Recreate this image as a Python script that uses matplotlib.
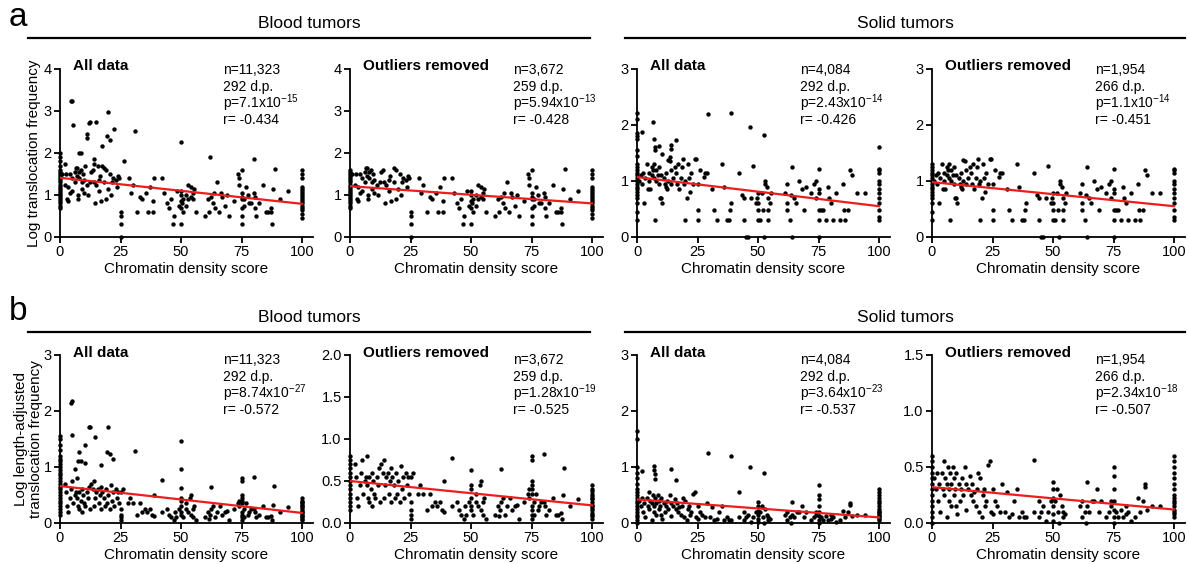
import numpy as np
import matplotlib
matplotlib.use("Agg")
import matplotlib.pyplot as plt
from matplotlib.lines import Line2D

plt.rcParams['font.family'] = ['Liberation Sans', 'DejaVu Sans']
plt.rcParams['mathtext.fontset'] = 'custom'
plt.rcParams['mathtext.rm'] = 'Liberation Sans'
plt.rcParams['mathtext.it'] = 'Liberation Sans:italic'
plt.rcParams['mathtext.bf'] = 'Liberation Sans:bold'

# --- data (x = chromatin density score, y = log freq) ---
# Blood tumors, log translocation frequency (row a)
blood_a = [
    (0, 0.7), (0, 0.75), (0, 0.8), (0, 0.85), (0, 0.9), (0, 0.95), (0, 1.0), (0, 1.05),
    (0, 1.1), (0, 1.15), (0, 1.2), (0, 1.25), (0, 1.3), (0, 1.35), (0, 1.4), (0, 1.45),
    (0, 1.5), (0, 1.55), (0, 1.6), (0, 1.7), (0, 1.8), (0, 1.9), (0, 2.0),
    (1, 1.5), (2, 1.75), (2, 1.25), (2.5, 1.5), (3, 0.9), (3.3, 0.85), (3.5, 1.2), (4, 1.05),
    (4.5, 3.25), (5, 3.23), (5.5, 2.67), (4, 1.5), (5, 1.1), (5, 1.4), (6, 1.3), (6, 1.55),
    (6.5, 1.65), (7, 1.45), (7, 1.65), (7.5, 1.0), (7.5, 0.9), (8, 1.55), (8, 1.4), (8, 2.0),
    (8.5, 2.0), (8.5, 1.6), (9, 1.15), (9, 1.3), (9.5, 1.5), (10, 1.35), (10, 1.05), (10.5, 1.7),
    (11, 2.35), (11, 2.45), (11, 1.25), (11.5, 1.0), (12, 2.72), (12.5, 2.74), (12.5, 1.3),
    (13, 1.55), (13.5, 1.6), (14, 1.75), (14, 1.85), (14, 1.3), (14.5, 0.8), (15, 2.74),
    (15, 1.25), (15.5, 1.7), (16, 1.35), (16, 1.1), (16.5, 1.45), (17, 0.85), (17.5, 2.17),
    (17.5, 1.7), (18, 1.3), (18, 1.65), (19, 0.9), (19, 1.6), (19.5, 2.4), (20, 2.97),
    (20, 1.15), (20.5, 2.3), (20.5, 1.5), (21, 1.0), (21.5, 1.3), (22, 1.4), (22.5, 2.58),
    (23, 1.35), (23.5, 1.2), (24, 1.45), (24.5, 1.4), (25, 0.6), (25, 0.5), (25, 0.3), (25, 0.0),
    (26.5, 1.8), (28.5, 1.4), (29.5, 1.05), (30, 1.25), (31, 2.52), (32, 0.6), (33, 0.95),
    (34, 0.9), (35.5, 1.05), (36.5, 0.6), (37, 1.2), (38.5, 0.85), (38.5, 0.6), (39, 1.4),
    (42, 1.4), (43, 1.05), (44, 0.8), (45, 0.7), (46, 0.9), (46.5, 0.3), (47, 0.5), (48.5, 1.1),
    (49, 0.75), (50, 2.27), (50, 1.1), (50, 1.0), (50, 0.85), (50, 0.7), (50, 0.3), (50.5, 0.8),
    (51, 0.9), (51, 0.6), (52, 0.75), (52, 1.0), (53, 1.25), (53, 0.9), (54, 1.2), (54, 0.95),
    (55, 1.05), (55, 0.9), (55.5, 1.15), (56, 0.6), (60, 0.5), (61, 0.9), (61.5, 0.6), (62, 1.9),
    (62.5, 0.95), (63, 0.8), (63.5, 1.05), (64, 0.7), (65, 1.3), (65.5, 0.6), (66.5, 1.05),
    (67, 0.95), (68, 0.75), (69, 1.0), (70, 0.5), (72, 0.85), (73.5, 1.5), (74, 1.4), (74, 1.25),
    (75, 1.6), (75, 1.05), (75, 0.95), (75, 0.9), (75, 0.7), (75, 0.5), (75, 0.3), (76, 0.75),
    (76, 0.9), (77, 1.2), (77.5, 1.0), (78, 0.8), (79, 0.8), (80, 1.86), (80, 1.05), (80.5, 0.95),
    (80.5, 0.7), (81, 0.5), (82, 0.8), (84, 1.25), (85, 0.6), (86, 0.6), (87, 0.7), (87, 0.6),
    (87.5, 0.3), (88, 1.15), (89, 1.62), (91, 0.9), (94, 1.1),
    (100, 0.45), (100, 0.55), (100, 0.65), (100, 0.7), (100, 0.75), (100, 0.8), (100, 0.85),
    (100, 0.9), (100, 0.95), (100, 1.0), (100, 1.05), (100, 1.1), (100, 1.15), (100, 1.2),
    (100, 1.4), (100, 1.5), (100, 1.6),
]

# Blood tumors, log length-adjusted translocation frequency (row b)
blood_b = [
    (0, 0.15), (0, 0.2), (0, 0.25), (0, 0.3), (0, 0.35), (0, 0.4), (0, 0.45), (0, 0.5),
    (0, 0.55), (0, 0.6), (0, 0.65), (0, 0.7), (0, 0.75), (0, 0.8), (0, 0.85), (0, 0.9),
    (0, 0.95), (0, 1.0), (0, 1.05), (0, 1.1), (0, 1.15), (0, 1.2), (0, 1.3), (0, 1.4),
    (0, 1.5), (0, 1.55),
    (4.5, 2.15), (5, 2.18), (5, 1.57), (12, 1.72), (12.3, 1.72), (20, 1.72), (14.5, 1.53),
    (10.5, 1.4), (8, 1.26), (7.5, 1.1), (8.5, 1.1), (10.5, 1.07), (6, 0.97), (19.5, 1.27),
    (20.5, 1.24), (22, 1.14), (17, 1.04), (31, 1.29), (50, 1.47), (50, 0.96), (42, 0.77),
    (50, 0.63), (62.5, 0.64), (75, 0.8), (75, 0.75), (80, 0.82), (88.5, 0.66),
    (2, 0.7), (2.5, 0.55), (3, 0.3), (3.5, 0.2), (4, 0.45), (4.5, 0.6), (5, 0.75), (5.5, 0.35),
    (6, 0.5), (6.5, 0.55), (7, 0.8), (7, 0.45), (7.5, 0.3), (8, 0.55), (8, 0.25), (8.5, 0.4),
    (9, 0.6), (9, 0.2), (9.5, 0.5), (10, 0.35), (10.5, 0.3), (11, 0.55), (11.5, 0.45), (12, 0.65),
    (12.5, 0.25), (13, 0.7), (13.5, 0.6), (14, 0.75), (14, 0.3), (14.5, 0.45), (15, 0.55),
    (15.5, 0.6), (16, 0.35), (16.5, 0.5), (17, 0.65), (17, 0.25), (17.5, 0.55), (18, 0.45),
    (18.5, 0.3), (19, 0.6), (19.5, 0.35), (20, 0.5), (20.5, 0.25), (21, 0.68), (21.5, 0.4),
    (22, 0.55), (22.5, 0.3), (23, 0.6), (23.5, 0.45), (24, 0.55), (24.5, 0.35), (25, 0.55),
    (25, 0.25), (25, 0.15), (25, 0.1), (25, 0.05), (26, 0.6), (28, 0.35), (29, 0.45), (30, 0.35),
    (32, 0.15), (33, 0.35), (34, 0.2), (35, 0.25), (36, 0.2), (37, 0.25), (38, 0.15), (39, 0.5),
    (39, 0.13), (42, 0.2), (44, 0.25), (45, 0.15), (46, 0.1), (47, 0.05), (47.5, 0.2), (48, 0.1),
    (49, 0.25), (50, 0.45), (50, 0.4), (50, 0.3), (50, 0.2), (50, 0.15), (51, 0.1), (52, 0.25),
    (52, 0.35), (53, 0.2), (53.5, 0.45), (54, 0.15), (54, 0.5), (55, 0.25), (55, 0.1), (55.5, 0.3),
    (56, 0.05), (60, 0.1), (61, 0.2), (61.5, 0.08), (62, 0.15), (62.5, 0.25), (63, 0.3), (64, 0.1),
    (65, 0.2), (66, 0.3), (67, 0.15), (68, 0.2), (69, 0.22), (70, 0.05), (72, 0.25), (73.5, 0.35),
    (74, 0.4), (74, 0.3), (75, 0.5), (75, 0.45), (75, 0.4), (75, 0.35), (75, 0.2), (75, 0.15),
    (75, 0.1), (75, 0.05), (76, 0.25), (76, 0.1), (77, 0.35), (77.5, 0.15), (78, 0.2), (79, 0.25),
    (80, 0.25), (80.5, 0.2), (81, 0.1), (82, 0.15), (84, 0.3), (85, 0.1), (86, 0.1), (87, 0.12),
    (87.5, 0.05), (88, 0.33), (91, 0.2), (94, 0.28),
    (100, 0.05), (100, 0.08), (100, 0.1), (100, 0.12), (100, 0.15), (100, 0.18), (100, 0.2),
    (100, 0.22), (100, 0.25), (100, 0.28), (100, 0.3), (100, 0.32), (100, 0.35), (100, 0.38),
    (100, 0.4), (100, 0.45),
]

# Solid tumors, log translocation frequency (row a)
solid_a = [
    (0, 0.3), (0, 0.45), (0, 0.6), (0, 0.7), (0, 0.75), (0, 0.8), (0, 0.85), (0, 0.9),
    (0, 0.95), (0, 1.0), (0, 1.05), (0, 1.1), (0, 1.15), (0, 1.2), (0, 1.25), (0, 1.3),
    (0, 1.45), (0, 1.55), (0, 1.75), (0, 1.8), (0, 1.85), (0, 2.1), (0, 2.22),
    (2, 1.88), (6.5, 2.05), (7, 1.75), (7.5, 1.6), (7.5, 1.55), (9, 1.62), (10.5, 1.48),
    (14, 1.65), (14, 1.58), (16, 1.74), (13.5, 1.42), (29.5, 2.2), (39, 2.22), (46.5, 1.97),
    (52.5, 1.82),
    (1, 1.0), (1.5, 1.1), (2, 0.95), (2.5, 1.15), (3, 0.6), (3.5, 1.05), (4, 1.3), (4.5, 0.85),
    (5, 1.15), (5, 1.0), (5.5, 0.85), (6, 1.25), (6, 1.1), (6.5, 1.2), (7, 1.3), (7, 1.05),
    (7.5, 0.3), (8, 1.2), (8, 1.0), (8.5, 1.1), (9, 0.95), (9, 1.25), (9.5, 0.7), (10, 1.1),
    (10, 0.7), (10.5, 0.6), (11, 1.05), (11.5, 0.95), (12, 0.9), (12, 1.15), (12.5, 0.85),
    (13, 1.0), (13, 1.38), (13.5, 1.35), (14, 1.2), (14, 0.95), (15, 1.05), (15.5, 1.25), (16, 1.15),
    (16.5, 0.95), (17, 1.3), (17.5, 0.85), (18, 1.05), (18.5, 1.25), (19, 1.4), (19.5, 0.95),
    (20, 1.0), (20, 0.3), (20.5, 0.7), (21, 1.3), (21.5, 1.05), (22, 0.8), (22.5, 1.15),
    (23, 0.95), (24, 1.4), (24.5, 1.4), (25, 0.48), (25, 0.3), (25, 0.95), (26, 1.2),
    (27.5, 1.08), (28, 1.15), (29, 1.15), (31, 0.85), (32, 0.48), (33, 0.3), (35, 1.3), (36, 0.9),
    (37, 0.3), (38, 0.3), (38.5, 0.48), (39, 0.6), (42, 1.15), (43.5, 0.75), (44, 0.3), (44, 0.7),
    (45, 0.0), (46, 0.0), (47, 0.7), (48, 1.27), (49, 0.6), (49.5, 0.7), (50, 0.78), (50, 0.6),
    (50, 0.48), (50, 0.3), (51, 0.3), (51.5, 0.78), (52, 0.48), (52.5, 0.0), (53, 0.95), (53, 1.0),
    (53.5, 0.9), (54, 0.7), (54, 0.48), (54, 0.3), (55, 0.6), (55.5, 0.78), (61, 0.78), (62, 0.95),
    (62, 0.6), (62, 0.48), (63, 0.3), (63.5, 0.75), (64, 1.25), (64, 0.0), (65, 0.7), (65.5, 0.6),
    (67, 1.0), (68, 0.85), (69, 0.48), (70, 0.9), (72, 0.78), (73, 0.95), (74, 0.7), (74, 1.0),
    (75, 1.22), (75, 0.85), (75, 0.78), (75, 0.48), (75, 0.3), (75, 0.0), (76, 0.48), (77, 0.48),
    (78, 0.3), (79, 0.9), (79.5, 0.7), (80, 0.6), (81, 0.3), (82, 0.78), (84, 0.3), (85, 0.95),
    (85.5, 0.48), (86, 0.3), (87, 0.48), (88, 1.2), (89, 1.1), (91, 0.78), (94, 0.78),
    (100, 0.3), (100, 0.35), (100, 0.48), (100, 0.6), (100, 0.7), (100, 0.78), (100, 0.85),
    (100, 0.95), (100, 1.0), (100, 1.15), (100, 1.2), (100, 1.22), (100, 1.6),
]

# Solid tumors, log length-adjusted translocation frequency (row b)
solid_b = [
    (0, 0.0), (0, 0.05), (0, 0.1), (0, 0.15), (0, 0.2), (0, 0.25), (0, 0.3), (0, 0.35),
    (0, 0.4), (0, 0.45), (0, 0.5), (0, 0.55), (0, 0.6), (0, 0.7), (0, 0.8), (0, 0.9),
    (0, 1.0), (0, 1.5), (0, 1.65),
    (2, 0.92), (7, 1.02), (7, 0.95), (7.5, 0.88), (7.5, 0.78), (14, 0.96), (16, 0.77),
    (29.5, 1.25), (39, 1.2), (46.5, 1.0), (52.5, 0.9), (42, 0.56), (75, 0.67), (64, 0.37),
    (50, 0.37), (88, 0.35),
    (1, 0.4), (1.5, 0.3), (2, 0.45), (2.5, 0.2), (3, 0.35), (3.5, 0.1), (4, 0.45), (4.5, 0.3),
    (5, 0.55), (5, 0.25), (5.5, 0.4), (6, 0.35), (6, 0.05), (6.5, 0.5), (7, 0.3), (7, 0.2),
    (7.5, 0.45), (8, 0.35), (8, 0.15), (8.5, 0.5), (9, 0.25), (9, 0.4), (9.5, 0.3), (10, 0.15),
    (10, 0.45), (10.5, 0.08), (11, 0.35), (11.5, 0.2), (12, 0.3), (12.5, 0.4), (13, 0.25),
    (13.5, 0.5), (14, 0.35), (14, 0.12), (15, 0.3), (15.5, 0.42), (16, 0.25), (16.5, 0.35),
    (17, 0.2), (17.5, 0.28), (18, 0.15), (18.5, 0.3), (19, 0.45), (19.5, 0.1), (20, 0.4),
    (20.5, 0.05), (21, 0.25), (21.5, 0.3), (22, 0.15), (22.5, 0.2), (23, 0.52), (24, 0.55),
    (24.5, 0.1), (25, 0.3), (25, 0.08), (26, 0.2), (27, 0.15), (28, 0.1), (29, 0.35), (30, 0.1),
    (31, 0.28), (32, 0.05), (33, 0.08), (34, 0.2), (35, 0.3), (36, 0.05), (37, 0.1), (38, 0.05),
    (39, 0.05), (42, 0.1), (44, 0.2), (44, 0.05), (45, 0.1), (46, 0.15), (47, 0.02), (48, 0.1),
    (49, 0.2), (50, 0.3), (50, 0.22), (50, 0.15), (50, 0.08), (50, 0.02), (51, 0.2), (51.5, 0.3),
    (52, 0.1), (52.5, 0.0), (53, 0.25), (53.5, 0.15), (54, 0.05), (54, 0.1), (55, 0.08),
    (61, 0.15), (62, 0.05), (62, 0.2), (63, 0.1), (63.5, 0.0), (64, 0.15), (65, 0.1), (66, 0.2),
    (67, 0.2), (68, 0.3), (69, 0.1), (70, 0.2), (72, 0.05), (73, 0.1), (74, 0.15), (74, 0.2),
    (75, 0.5), (75, 0.42), (75, 0.3), (75, 0.2), (75, 0.12), (75, 0.05), (75, 0.0), (76, 0.1),
    (77, 0.05), (78, 0.12), (79, 0.05), (80, 0.15), (80, 0.08), (81, 0.1), (82, 0.02), (84, 0.05),
    (85, 0.22), (86, 0.1), (87, 0.2), (88, 0.32), (89, 0.12), (91, 0.15), (94, 0.15),
    (100, 0.05), (100, 0.08), (100, 0.1), (100, 0.12), (100, 0.15), (100, 0.18), (100, 0.2),
    (100, 0.22), (100, 0.25), (100, 0.3), (100, 0.35), (100, 0.4), (100, 0.45), (100, 0.5),
    (100, 0.55), (100, 0.6),
]

# y cut-off used for the "Outliers removed" panels
outlier_cut = {"blood_a": 1.65, "blood_b": 0.82, "solid_a": 1.4, "solid_b": 0.6}

# regression line values at x = 0 and x = 100, per panel
fit_lines = [
    (1.41, 0.79), (1.21, 0.80), (1.07, 0.55), (0.98, 0.55),
    (0.66, 0.18), (0.50, 0.21), (0.42, 0.10), (0.32, 0.12),
]

stats = [
    ("n=11,323", "292 d.p.", "7.1", "-15", "-0.434"),
    ("n=3,672", "259 d.p.", "5.94", "-13", "-0.428"),
    ("n=4,084", "292 d.p.", "2.43", "-14", "-0.426"),
    ("n=1,954", "266 d.p.", "1.1", "-14", "-0.451"),
    ("n=11,323", "292 d.p.", "8.74", "-27", "-0.572"),
    ("n=3,672", "259 d.p.", "1.28", "-19", "-0.525"),
    ("n=4,084", "292 d.p.", "3.64", "-23", "-0.537"),
    ("n=1,954", "266 d.p.", "2.34", "-18", "-0.507"),
]

panel_titles = ["All data", "Outliers removed", "All data", "Outliers removed"]
y_limits = [4, 4, 3, 3, 3, 2, 3, 1.5]
y_ticks = [
    [0, 1, 2, 3, 4], [0, 1, 2, 3, 4], [0, 1, 2, 3], [0, 1, 2, 3],
    [0, 1, 2, 3], [0.0, 0.5, 1.0, 1.5, 2.0], [0, 1, 2, 3], [0.0, 0.5, 1.0, 1.5],
]
x_ticks = [0, 25, 50, 75, 100]

W, H = 1189, 564
fig = plt.figure(figsize=(W / 100, H / 100), dpi=100)

lefts = [60, 350, 637, 932]
tops = [69, 355]
ax_w, ax_h = 253, 168

panel_data = [
    (blood_a, None), (blood_a, "blood_a"), (solid_a, None), (solid_a, "solid_a"),
    (blood_b, None), (blood_b, "blood_b"), (solid_b, None), (solid_b, "solid_b"),
]

for i, (pts, cut_key) in enumerate(panel_data):
    row, col = divmod(i, 4)
    left = lefts[col]
    top = tops[row]
    ax = fig.add_axes([left / W, 1 - (top + ax_h) / H, ax_w / W, ax_h / H])
    arr = np.array(pts, dtype=float)
    if cut_key is not None:
        arr = arr[arr[:, 1] <= outlier_cut[cut_key]]
    ax.scatter(arr[:, 0], arr[:, 1], s=10, color='black', linewidths=0,
               clip_on=False, zorder=3)
    y0, y100 = fit_lines[i]
    ax.plot([0, 100], [y0, y100], color='#ee1c1c', lw=1.6, zorder=4)

    ax.set_xlim(0, 104.5)
    ax.set_ylim(0, y_limits[i])
    ax.set_xticks(x_ticks)
    ax.set_yticks(y_ticks[i])
    if y_limits[i] in (2, 1.5):
        ax.set_yticklabels([f"{t:.1f}" for t in y_ticks[i]])
    for s in ['top', 'right']:
        ax.spines[s].set_visible(False)
    for s in ['left', 'bottom']:
        ax.spines[s].set_linewidth(1.3)
    ax.tick_params(direction='out', length=4, width=1.3, labelsize=10.5, pad=2)
    ax.set_xlabel("Chromatin density score", fontsize=11, labelpad=2)

    if i == 0:
        ax.set_ylabel("Log translocation frequency", fontsize=11, labelpad=2)
    if i == 4:
        ax.set_ylabel("Log length-adjusted\ntranslocation frequency", fontsize=11,
                      labelpad=0, linespacing=1.1)

    ty = 1.02 if row == 0 else 1.01
    ax.text(0.05, ty, panel_titles[col], transform=ax.transAxes, fontsize=11,
            fontweight='bold', va='center', ha='left')
    n, dp, pm, pe, r = stats[i]
    block_top = 0.995 if row == 0 else 0.97
    lines = [n, dp, f"p={pm}x10$^{{\\mathregular{{{pe}}}}}$", f"r= {r}"]
    for k, txt in enumerate(lines):
        ax.text(0.645, block_top - k * 0.1, txt, transform=ax.transAxes,
                fontsize=10, va='center', ha='left')

# group headers with rules
header_rows = [(38, 23, "a", 18), (332, 317, "b", 312)]
for line_y, text_y, letter, letter_y in header_rows:
    for x0, x1, name in [(28, 590, "Blood tumors"), (625, 1185, "Solid tumors")]:
        fig.add_artist(Line2D([x0 / W, x1 / W], [1 - line_y / H, 1 - line_y / H],
                              color='black', lw=1.6))
        fig.text((x0 + x1) / 2 / W, 1 - text_y / H, name, fontsize=12.5,
                 ha='center', va='center')
    fig.text(18 / W, 1 - letter_y / H, letter, fontsize=24, ha='center', va='center')

fig.savefig("out.png", dpi=100)
